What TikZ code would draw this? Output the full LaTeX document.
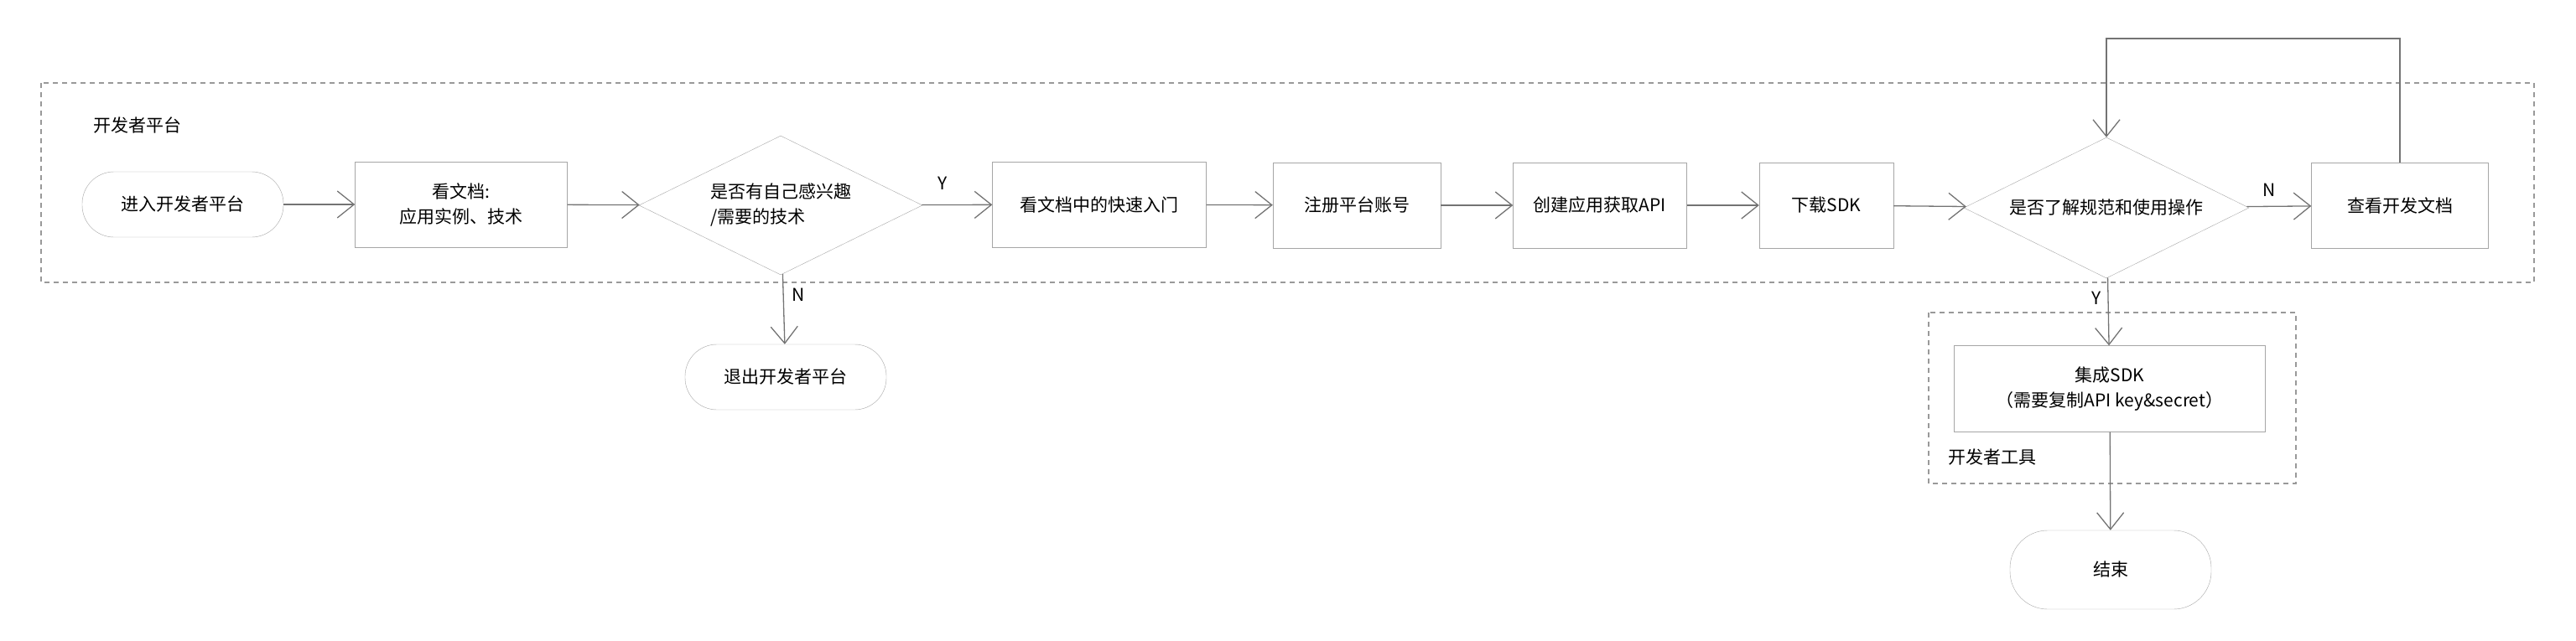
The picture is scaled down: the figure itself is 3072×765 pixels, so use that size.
\documentclass[tikz,border=0pt]{standalone}
\usepackage{fontspec}
\setmainfont{Noto Sans CJK SC}
\usetikzlibrary{arrows.meta,shapes.geometric}

\tikzset{
  box/.style={draw=gray!70, minimum height=102pt, align=center},
  term/.style={draw=gray!70, rounded corners=38pt, minimum width=240pt, minimum height=78pt},
  cond/.style={draw=gray!70, diamond, aspect=2.04, minimum width=338pt, minimum height=166pt, inner sep=0pt, align=left},
  zone/.style={draw=gray!80, dashed, dash pattern=on 6pt off 5pt, line width=1.2pt},
  flow/.style={draw=gray!90!black, line width=1.3pt, -{Straight Barb[length=20pt,width=32pt,line width=1.3pt]}}
}

\begin{document}
\begin{tikzpicture}[x=1pt, y=-1pt, font=\fontsize{21pt}{30pt}\selectfont]

\useasboundingbox (0,0) rectangle (3072,765);

\draw [zone] (49,99) rectangle (3022,337);
\draw [zone] (2300,373) rectangle (2738,577);
\node [anchor=west] (platform) at (108,150) {开发者平台};
\node [anchor=west] (tools) at (2320,546) {开发者工具};

\node [term] (start) at (218,244) {进入开发者平台};
\node [box, minimum width=253pt] (docs) at (550,244) {看文档:\\应用实例、技术};
\node [cond] (want) at (931,245) {是否有自己感兴趣\\/需要的技术};
\node [box, minimum width=255pt] (quick) at (1311,244) {看文档中的快速入门};
\node [box, minimum width=200pt] (reg) at (1618,245) {注册平台账号};
\node [box, minimum width=207pt] (app) at (1908,245) {创建应用获取API};
\node [box, minimum width=160pt] (sdk) at (2178,245) {下载SDK};
\node [cond, minimum width=340pt, minimum height=168pt, align=center] (know) at (2512,248) {是否了解规范和使用操作};
\node [box, minimum width=211pt] (read) at (2862,245) {查看开发文档};
\node [term] (quit) at (937,450) {退出开发者平台};
\node [box, minimum width=371pt, minimum height=103pt] (integ) at (2516,464) {集成SDK\\（需要复制API key\&secret）};
\node [term, minimum height=94pt, rounded corners=45pt] (finish) at (2517,680) {结束};

\coordinate (loopR) at (read.north |- 0,46);
\coordinate (loopL) at (know.north |- 0,46);

\draw [flow] (start) -- (docs);
\draw [flow] (docs) -- (want);
\draw [flow] (want) -- node [above=14pt, pos=0.3] {Y} (quick);
\draw [flow] (want) -- node [right=6pt, pos=0.3] {N} (quit);
\draw [flow] (quick) -- (reg);
\draw [flow] (reg) -- (app);
\draw [flow] (app) -- (sdk);
\draw [flow] (sdk) -- (know);
\draw [flow] (know) -- node [above=8pt, pos=0.35] {N} (read);
\draw [flow] (read.north) -- (loopR) -- (loopL) -- (know.north);
\draw [flow] (know) -- node [left=4pt, pos=0.3] {Y} (integ);
\draw [flow] (integ) -- (finish);

\end{tikzpicture}
\end{document}
